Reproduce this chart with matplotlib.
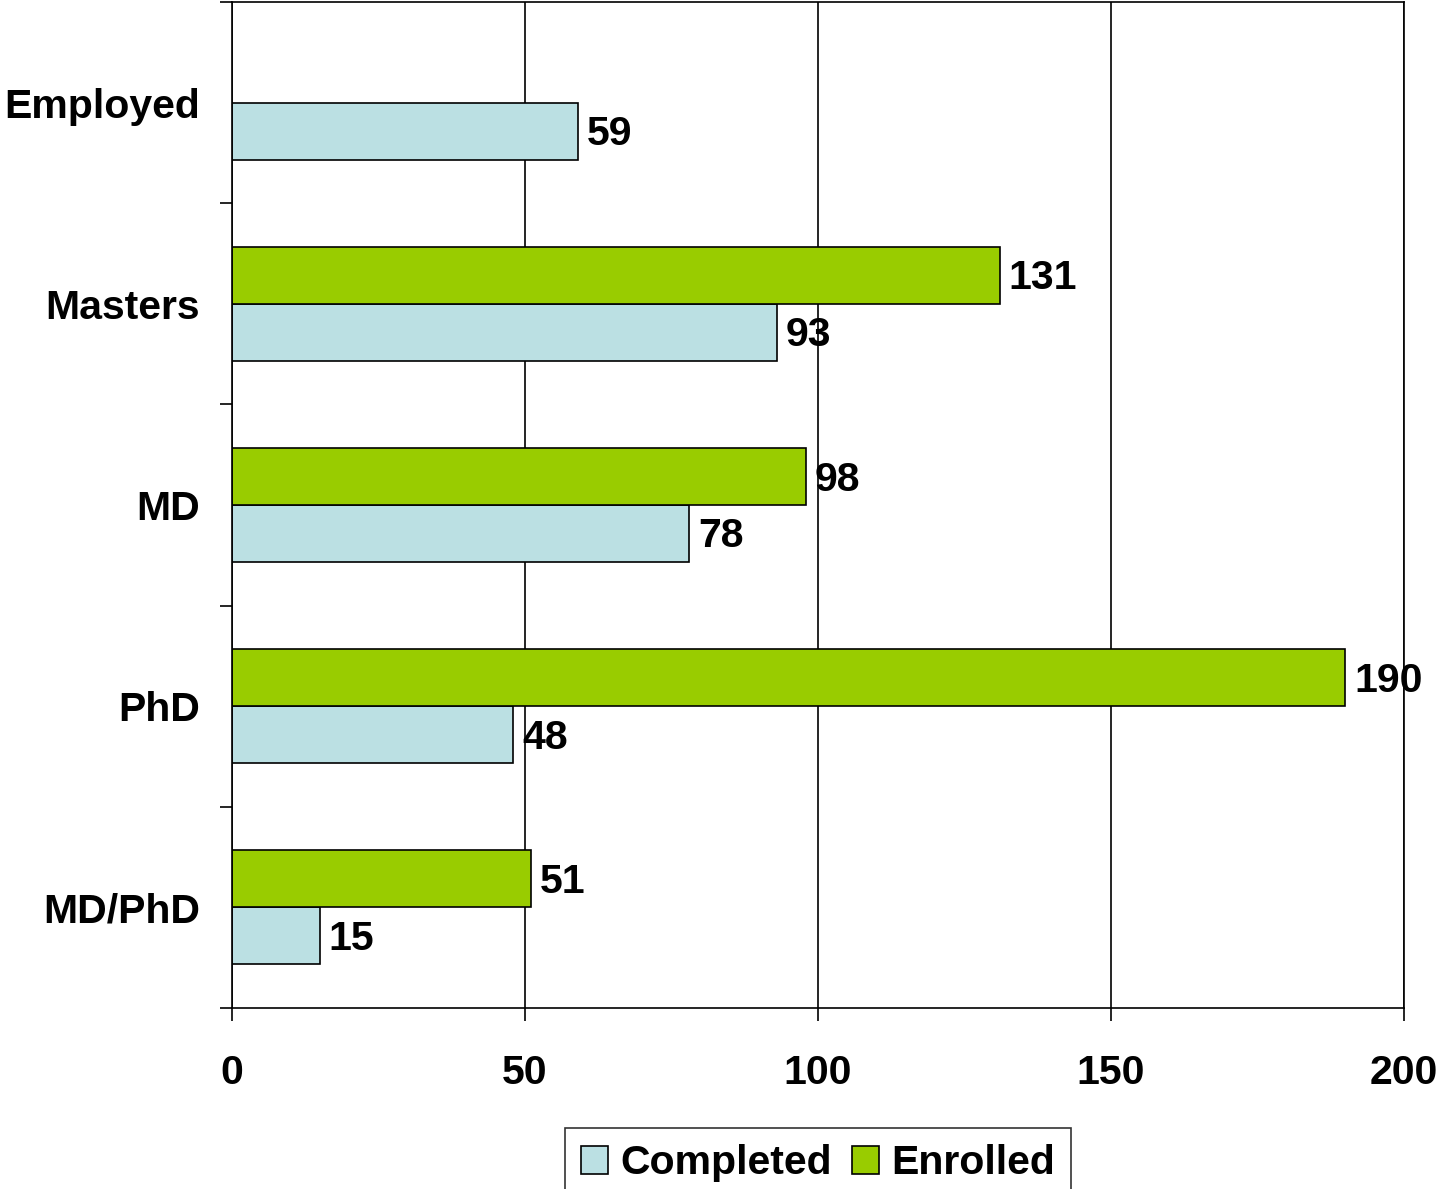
import numpy as np
import matplotlib
matplotlib.use('Agg')
import matplotlib.pyplot as plt

plt.rcParams['font.family'] = ['Liberation Sans', 'DejaVu Sans']
plt.rcParams['font.weight'] = 'bold'

categories = ['Employed', 'Masters', 'MD', 'PhD', 'MD/PhD']
completed = [59, 93, 78, 48, 15]
enrolled = [None, 131, 98, 190, 51]
xticks = [0, 50, 100, 150, 200]

c_completed = '#BBE0E3'
c_enrolled = '#99CC00'

fig = plt.figure(figsize=(14.36, 11.89), dpi=100)
ax = fig.add_axes([232 / 1436, 181 / 1189, 1172 / 1436, 1006 / 1189])

h = 0.283
y = np.arange(len(categories))
enr = [np.nan if v is None else v for v in enrolled]

ax.barh(y + h / 2, completed, height=h, color=c_completed, edgecolor='black',
        linewidth=1.2, label='Completed', zorder=3)
ax.barh(y - h / 2, enr, height=h, color=c_enrolled, edgecolor='black',
        linewidth=1.2, label='Enrolled', zorder=3)

fs = 29.5
for i in range(len(categories)):
    ax.text(completed[i] + 1.5, y[i] + h / 2 + 0.015, str(completed[i]), va='center',
            ha='left', fontsize=fs, fontweight='bold', zorder=4)
    if enrolled[i] is not None:
        ax.text(enrolled[i] + 1.5, y[i] - h / 2 + 0.015, str(enrolled[i]), va='center',
                ha='left', fontsize=fs, fontweight='bold', zorder=4)

ax.set_xlim(0, 200)
ax.set_ylim(len(categories) - 0.5, -0.5)
ax.set_xticks(xticks)
ax.set_xticklabels([str(t) for t in xticks], fontsize=fs, fontweight='bold')
ax.set_yticks(y)
ax.set_yticklabels(categories, fontsize=fs, fontweight='bold')
ax.set_yticks(np.arange(-0.5, len(categories)), minor=True)
ax.tick_params(axis='y', which='major', length=0, pad=23)
ax.tick_params(axis='y', which='minor', length=9, width=1.2, direction='out')
ax.tick_params(axis='x', which='major', length=9, width=1.2, direction='out', pad=24)
ax.grid(axis='x', color='black', linewidth=1.2, zorder=0)
for s in ax.spines.values():
    s.set_linewidth(1.2)
    s.set_zorder(5)

leg = fig.legend(loc='upper center', bbox_to_anchor=(818 / 1436, 1 - 1128 / 1189),
                 ncol=2, frameon=True, fancybox=False, borderaxespad=0,
                 handlelength=0.65, handleheight=0.65, handletextpad=0.3,
                 columnspacing=0.5, borderpad=0.4, prop={'weight': 'bold', 'size': fs})
leg.get_frame().set_edgecolor('black')
leg.get_frame().set_linewidth(1.2)

fig.savefig('out.png', dpi=100)
